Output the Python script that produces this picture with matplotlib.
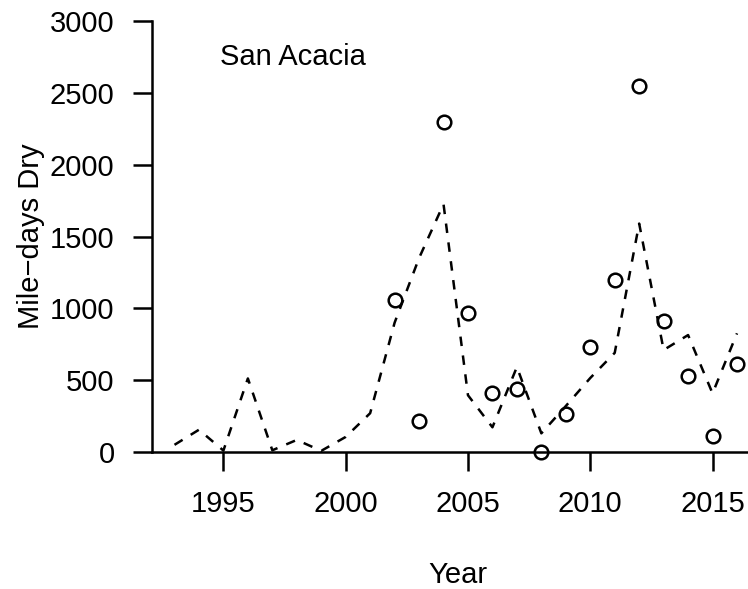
import numpy as np
import matplotlib.pyplot as plt

plt.rcParams['font.family'] = ['Liberation Sans', 'DejaVu Sans']

# dashed line: yearly series, 1993-2016
line_years = np.arange(1993, 2017)
line_vals = [50, 155, 10, 512, 12, 84, 8, 105, 270, 900, 1350, 1725,
             395, 172, 592, 130, 320, 515, 690, 1590, 710, 814, 408, 826]

# open circles: observed values, 2002-2016
obs_years = np.arange(2002, 2017)
obs_vals = [1058, 216, 2295, 970, 408, 438, 0, 262, 729, 1197,
            2550, 914, 529, 114, 610]

W, H = 748, 589
fig = plt.figure(figsize=(W / 100, H / 100), dpi=100)
# plot region in pixels: x from 152 to ~760, y from 21 to 452
ax = fig.add_axes([152 / W, (H - 452) / H, (759.5 - 152) / W, 431 / H])

ax.plot(line_years, line_vals, color='black', lw=1.8,
        linestyle=(0, (3.8, 3.8)))
ax.plot(obs_years, obs_vals, 'o', ms=9.8, mfc='none', mec='black', mew=1.8,
        clip_on=False)

ax.set_xlim(1992.08, 2016.92)
ax.set_ylim(0, 3000)
ax.set_xticks([1995, 2000, 2005, 2010, 2015])
ax.set_yticks(np.arange(0, 3001, 500))

for s in ['top', 'right']:
    ax.spines[s].set_visible(False)
for s in ['left', 'bottom']:
    ax.spines[s].set_linewidth(1.8)
ax.tick_params(width=1.8, length=14, labelsize=21, pad=13)

ax.text(1994.86, 2750, 'San Acacia', ha='left', va='center', fontsize=21)

fig.text(458 / W, 1 - 575 / H, 'Year', ha='center', va='center', fontsize=21)
fig.text(31 / W, 1 - 236.5 / H, 'Mile\u2212days Dry', ha='center',
         va='center', rotation=90, fontsize=21)

fig.savefig('out.png', dpi=100)
